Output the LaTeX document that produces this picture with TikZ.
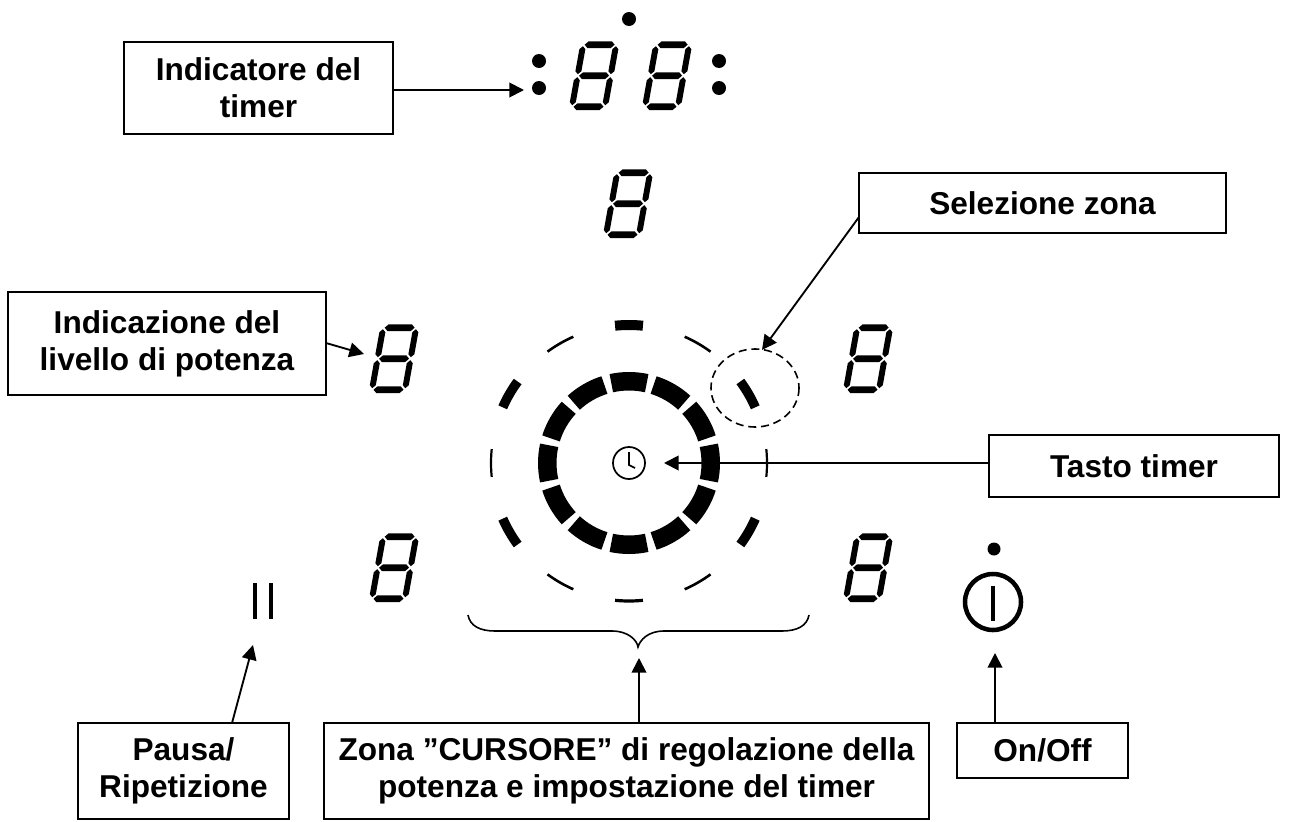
\documentclass[tikz,border=0pt]{standalone}
\usepackage{fontspec}
\setmainfont{Liberation Sans}
\usetikzlibrary{arrows.meta}
\tikzset{
  labelbox/.style={draw=black,line width=1.3pt,fill=white,align=center,inner sep=0pt,outer sep=0pt,
    font=\fontsize{23.7}{27.6}\selectfont\bfseries},
  arr/.style={line width=1.4pt,-{Triangle[length=11pt,width=11pt]},shorten >=0pt},
  thinline/.style={line width=1.2pt},
}
\newcommand{\hsg}[3]{\fill (#1,#3) -- ({#1+3.3},{#3-3.3}) -- ({#2-3.3},{#3-3.3}) -- (#2,#3) -- ({#2-3.3},{#3+3.3}) -- ({#1+3.3},{#3+3.3}) -- cycle;}
\newcommand{\vsg}[3]{\fill (#1,#2) -- ({#1+3},{#2+3}) -- ({#1+3},{#3-3}) -- (#1,#3) -- ({#1-3},{#3-3}) -- ({#1-3},{#2+3}) -- cycle;}
% #1,#2 : lower left of the digit's outline
\newcommand{\segdigit}[2]{%
  \begin{scope}[shift={(#1+3,#2-3.3)},xslant=0.18]
    \hsg{1.5}{31.5}{-62}\hsg{1.5}{31.5}{-31}\hsg{1.5}{31.5}{0}
    \vsg{0}{-60.5}{-32.5}\vsg{33}{-60.5}{-32.5}
    \vsg{0}{-29.5}{-1.5}\vsg{33}{-29.5}{-1.5}
  \end{scope}}
\newcommand{\ringseg}[3]{% angle, half angle, width
  \draw[line width=#3*0.75pt] ({#1-#2}:\ringr) arc[start angle={#1-#2},end angle={#1+#2},radius=\ringr];}
\begin{document}
\begin{tikzpicture}[x=0.75pt,y=-0.75pt]
\useasboundingbox (0,0) rectangle (1294,821);
\fill[white] (0,0) rectangle (1294,821);

% ---- dots
\foreach \p/\r in {629/19,539/61,539/88,719/61,719/88}{
  \pgfmathsetmacro{\dx}{0}
}
\fill (629,19) circle[radius=7];
\fill (539,61) circle[radius=7];
\fill (539,88) circle[radius=7];
\fill (719,61) circle[radius=7];
\fill (719,88) circle[radius=7];

% ---- digits
\segdigit{569}{110}
\segdigit{642}{110}
\segdigit{603}{238}
\segdigit{369}{393}
\segdigit{843}{393}
\segdigit{369}{602}
\segdigit{843}{602}

% ---- rings
\begin{scope}[shift={(629,463)},x=0.75pt,y=0.75pt]
  \def\ringr{81.75}
  \foreach \a in {0,30,...,330}{\ringseg{\a}{12.5}{18.5}}
  \def\ringr{138}
  \ringseg{90}{5.8}{10}
  \foreach \a in {30,150,210,330}{\ringseg{\a}{6.2}{9.5}}
  \foreach \a in {60,120,240,300}{\ringseg{\a}{6.2}{2.6}}
  \ringseg{0}{5.8}{2.2}
  \ringseg{180}{5.8}{2.2}
  \ringseg{270}{5.8}{3.2}
  % clock
  \draw[line width=1.3pt] (0,0) circle[radius=16];
  \draw[line width=1.3pt,line join=miter] (0,11) -- (0,-2) -- (6,-5);
\end{scope}

% ---- selection circle
\draw[line width=1.2pt,dash pattern=on 6pt off 3.6pt] (755,388) ellipse[x radius=44,y radius=39];
\coordinate (zoneT) at (762,350);

% ---- pause
\fill (253,583) rectangle (257,619);
\fill (269,583) rectangle (273,619);

% ---- power symbol
\fill (994,549) circle[radius=6.5];
\draw[line width=3.4pt] (993,602) circle[radius=28];
\draw[line width=3.6pt] (993,586) -- (993,621);

% ---- brace
\draw[line width=1.2pt] (468,615) .. controls (470,626) and (480,631) .. (495,631)
  -- (612,631) .. controls (628,631) and (637,640) .. (638,647)
  .. controls (640,640) and (648,631) .. (664,631)
  -- (782,631) .. controls (797,631) and (807,626) .. (809,615);

% ---- label boxes
\node[labelbox,minimum width=202pt,minimum height=69pt] (timerind) at (258.5,88) {Indicatore del\\timer};
\node[labelbox,minimum width=275pt,minimum height=45pt] (zonesel) at (1042.5,203) {Selezione zona};
\node[labelbox,minimum width=238.5pt,minimum height=77pt] (powerind) at (167,343.5) {Indicazione del\\livello di potenza};
\node[labelbox,minimum width=217.5pt,minimum height=46.5pt] (timerkey) at (1134,466) {Tasto timer};
\node[labelbox,minimum width=158pt,minimum height=72pt] (pausebox) at (183.5,771) {Pausa/\\Ripetizione};
\node[labelbox,minimum width=454pt,minimum height=72pt] (cursor) at (626.5,771) {Zona "CURSORE" di regolazione della\\potenza e impostazione del timer};
\node[labelbox,minimum width=128pt,minimum height=41pt] (onoff) at (1042.5,750.5) {On/Off};

% ---- arrow ends
\coordinate (timerT) at (524,90);
\coordinate (zoneS) at (859,217);
\coordinate (powerS) at (326,343);
\coordinate (powerT) at (364,354);
\coordinate (keyT) at (664,463);
\coordinate (pauseS) at (232,723);
\coordinate (pauseT) at (253,645);
\coordinate (cursorS) at (639,723);
\coordinate (cursorT) at (639,658);
\coordinate (onS) at (995,723);
\coordinate (onT) at (995,653);

\draw[arr] (timerind.east |- timerT) -- (timerT);
\draw[arr] (zoneS) -- (zoneT);
\draw[arr] (powerS) -- (powerT);
\draw[arr] (timerkey.west |- keyT) -- (keyT);
\draw[arr] (pauseS) -- (pauseT);
\draw[arr] (cursorS) -- (cursorT);
\draw[arr] (onS) -- (onT);
\end{tikzpicture}
\end{document}
